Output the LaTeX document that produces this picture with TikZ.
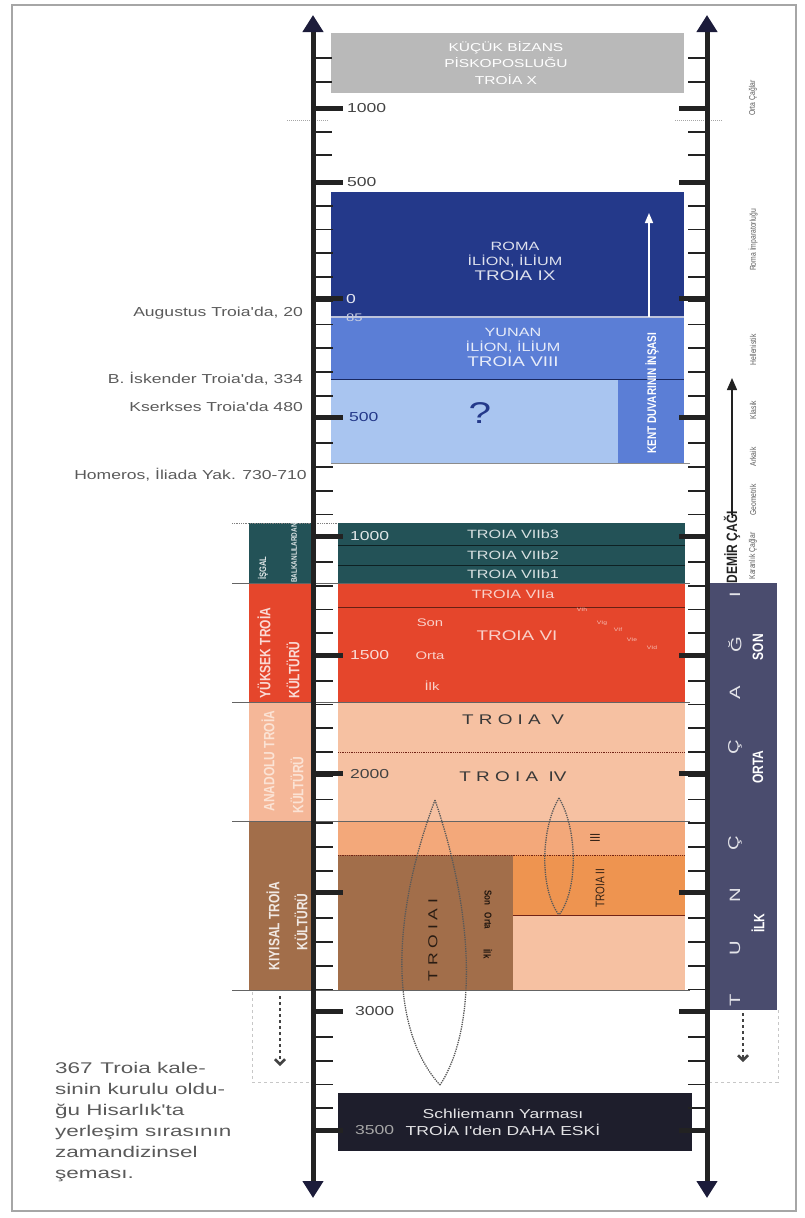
\documentclass[tikz,border=0pt]{standalone}
\usepackage{fontspec}
\setmainfont{Liberation Sans}
\newfontfamily\wsans[FakeStretch=1.35]{Liberation Sans}
\newfontfamily\nsans[FakeStretch=0.8]{Liberation Sans}
\newfontfamily\capsans[FakeStretch=1.45]{Liberation Sans}
\usetikzlibrary{arrows.meta}

\definecolor{bizgray}{HTML}{B9B9B9}
\definecolor{romablue}{HTML}{24398A}
\definecolor{yunanblue}{HTML}{5B7ED6}
\definecolor{skyblue}{HTML}{A9C5F0}
\definecolor{tealsev}{HTML}{235257}
\definecolor{redsix}{HTML}{E5462C}
\definecolor{peach}{HTML}{F6C1A2}
\definecolor{peachthree}{HTML}{F3A87A}
\definecolor{orangetwo}{HTML}{EE9450}
\definecolor{brownone}{HTML}{A26E4A}
\definecolor{slate}{HTML}{4A4C6E}
\definecolor{night}{HTML}{1E1E2C}
\definecolor{ink}{HTML}{222222}
\definecolor{tipnavy}{HTML}{1C1C3A}
\definecolor{note}{HTML}{5A5A5A}

\tikzset{
  axisline/.style={line width=5pt, ink,
    {Triangle[width=20pt,length=17pt,color=tipnavy]}-{Triangle[width=20pt,length=17pt,color=tipnavy]}},
  minortick/.style={line width=1.6pt, ink},
  majortick/.style={line width=5pt, ink},
  yearlbl/.style={anchor=west, inner sep=0, font=\wsans\fontsize{13}{13}\selectfont},
  boxtxt/.style={inner sep=0, align=center, font=\wsans\fontsize{12}{15}\selectfont},
  eventlbl/.style={anchor=east, inner sep=0, text=note, font=\wsans\fontsize{13}{13}\selectfont},
  culture/.style={rotate=90, inner sep=0, font=\nsans\bfseries\fontsize{15}{15}\selectfont},
  tuncltr/.style={rotate=90, inner sep=0, text=white!85!slate, font=\wsans\fontsize{15}{15}\selectfont},
  tuncsub/.style={rotate=90, inner sep=0, text=white, font=\nsans\bfseries\fontsize{15}{15}\selectfont},
  periodlbl/.style={rotate=90, inner sep=0, text=note, font=\nsans\fontsize{8.5}{8.5}\selectfont},
  lens/.style={densely dotted, line width=1.3pt, ink!75},
  bandline/.style={line width=0.8pt, ink!70},
  gapline/.style={dashed, line width=1pt, black!22},
  downarrow/.style={dashed, line width=2.5pt, ink!85, -{Straight Barb[length=5pt,width=10pt]}},
}

\begin{document}
\begin{tikzpicture}[x=1pt, y=-1pt]
  \useasboundingbox (0,0) rectangle (805,1218);
  % frame
  \draw[black!35, line width=2pt] (12,5) rectangle (796,1211);

  % upper blocks
  \fill[bizgray] (331,33) rectangle (684,93);
  \fill[romablue] (331,192) rectangle (684,317);
  \fill[yunanblue] (331,317) rectangle (684,379);
  \fill[skyblue] (331,379) rectangle (618,463);
  \fill[yunanblue] (618,379) rectangle (684,463);
  \draw[white!70!romablue, line width=1.2pt] (331,317) -- (684,317);
  \draw[romablue!70!black, line width=0.8pt] (331,379) -- (684,379);
  \draw[black!45, line width=0.8pt] (331,463) -- (690,463);

  % lower blocks
  \fill[tealsev] (338,523) rectangle (685,583);
  \fill[tealsev] (249,523) rectangle (311,583);
  \fill[redsix] (338,583) rectangle (685,702);
  \fill[redsix] (249,583) rectangle (311,702);
  \fill[peach] (338,702) rectangle (685,821);
  \fill[peach!92!redsix] (249,702) rectangle (311,821);
  \fill[peachthree] (338,821) rectangle (685,855);
  \fill[brownone] (338,855) rectangle (513,990);
  \fill[brownone] (249,821) rectangle (311,990);
  \fill[orangetwo] (513,855) rectangle (685,915);
  \fill[peach] (513,915) rectangle (685,990);
  \fill[night] (338,1093) rectangle (692,1151);
  \fill[slate] (708,583) rectangle (777,1010);

  \draw[black!60!tealsev, line width=1pt] (338,545) -- (685,545);
  \draw[black!60!tealsev, line width=1pt] (338,565) -- (685,565);
  \draw[black!55!redsix, line width=1pt] (338,607) -- (685,607);
  \draw[densely dotted, black!50!redsix, line width=0.8pt] (338,752) -- (685,752);
  \draw[densely dotted, black!50!redsix, line width=0.8pt] (338,855) -- (685,855);
  \draw[black!50!redsix, line width=0.8pt] (513,915) -- (685,915);
  \draw[densely dotted, black!50, line width=0.8pt] (232,523) -- (338,523);
  \foreach \y in {583,702,821,990}
    \draw[bandline] (232,\y) -- (690,\y);

  % lenses
  \draw[lens] (435,800) .. controls (390,920) and (390,1030) .. (440,1085);
  \draw[lens] (435,800) .. controls (476,920) and (476,1030) .. (440,1085);
  \draw[lens] (559,798) .. controls (540,830) and (540,890) .. (559,915);
  \draw[lens] (559,798) .. controls (578,830) and (578,890) .. (559,915);

  % gaps below
  \draw[gapline] (252,992) -- (252,1082) -- (313,1082);
  \draw[gapline] (778,1010) -- (778,1082) -- (707,1082);
  \draw[downarrow] (280,996) -- (280,1066);
  \draw[downarrow] (743,1013) -- (743,1062);
  \draw[densely dotted, black!35, line width=1pt] (287,120) -- (328,120);
  \draw[densely dotted, black!35, line width=1pt] (675,120) -- (722,120);

  % axes and ticks
  \draw[axisline] (313,15) -- (313,1198);
  \draw[axisline] (707,15) -- (707,1198);
  \foreach \y in {58,82,132,155}{
    \draw[minortick] (313,\y) -- (332,\y);
    \draw[minortick] (688,\y) -- (707,\y);
  }
  \foreach \k in {1,...,39}{
    \draw[minortick] (313,182+23.75*\k) -- (333,182+23.75*\k);
    \draw[minortick] (688,182+23.75*\k) -- (707,182+23.75*\k);
  }
  \foreach \y in {108,182,298.75,417.5,536.25,655,773.75,892.5,1011.25,1130}{
    \draw[majortick] (313,\y) -- (343,\y);
    \draw[majortick] (679,\y) -- (707,\y);
  }

  % year labels
  \node[yearlbl, text=ink!85] (y1000ad) at (347,108) {1000};
  \node[yearlbl, text=ink!85] (y500ad) at (347,182) {500};
  \node[yearlbl, text=white!88!romablue] (y0) at (346,298.75) {0};
  \node[yearlbl, text=white!75!romablue, font=\wsans\fontsize{11}{11}\selectfont] (y85) at (346,318) {85};
  \node[yearlbl, text=romablue] (y500bc) at (349,417.5) {500};
  \node[yearlbl, text=white!85!tealsev] (y1000bc) at (350,536.25) {1000};
  \node[yearlbl, text=white!80!redsix] (y1500) at (350,655) {1500};
  \node[yearlbl, text=ink!85] (y2000) at (350,773.75) {2000};
  \node[yearlbl, text=ink!85] (y3000) at (355,1011.25) {3000};
  \node[yearlbl, text=black!35] (y3500) at (355,1130) {3500};

  % block texts
  \node[boxtxt, text=white, font=\wsans\fontsize{11.5}{16.5}\selectfont] (bizans) at (506,63)
    {KÜÇÜK BİZANS\\PİSKOPOSLUĞU\\TROİA X};
  \node[boxtxt, text=white!85!romablue] (roma) at (515,261)
    {ROMA\\İLİON, İLİUM\\{\fontsize{14}{16}\selectfont TROIA IX}};
  \node[boxtxt, text=white!85!yunanblue] (yunan) at (513,347)
    {YUNAN\\İLİON, İLİUM\\{\fontsize{14}{16}\selectfont TROIA VIII}};
  \node[text=romablue, inner sep=0, font=\wsans\fontsize{30}{30}\selectfont] (soru) at (480,413) {?};
  \node[rotate=90, inner sep=0, text=white, font=\nsans\bfseries\fontsize{12.5}{12.5}\selectfont] (kent) at (652,393)
    {KENT DUVARININ İNŞASI};
  \coordinate (kentust) at (649,213);
  \draw[white, line width=1.6pt, -{Triangle[width=8pt,length=10pt]}] (649,317) -- (kentust);

  \node[boxtxt, text=white!82!tealsev] (vii3) at (513,534) {TROIA VIIb3};
  \node[boxtxt, text=white!82!tealsev] (vii2) at (513,555) {TROIA VIIb2};
  \node[boxtxt, text=white!82!tealsev] (vii1) at (513,574) {TROIA VIIb1};
  \node[boxtxt, text=white!75!redsix] (viia) at (513,594) {TROIA VIIa};
  \node[boxtxt, text=white!75!redsix, font=\wsans\fontsize{14}{14}\selectfont] (vi) at (517,636) {TROIA VI};
  \node[boxtxt, text=white!75!redsix, font=\wsans\fontsize{11}{11}\selectfont] (vison) at (430,623) {Son};
  \node[boxtxt, text=white!75!redsix, font=\wsans\fontsize{11}{11}\selectfont] (viorta) at (430,656) {Orta};
  \node[boxtxt, text=white!75!redsix, font=\wsans\fontsize{11}{11}\selectfont] (viilk) at (432,686) {İlk};
  \foreach \t/\x/\y in {VIh/582/610, VIg/602/623, VIf/618/630, VIe/632/640, VId/652/648}
    \node[inner sep=0, text=white!65!redsix, font=\wsans\fontsize{5}{5}\selectfont] (sub\t) at (\x,\y) {\t};

  \node[boxtxt, text=ink!90, font=\wsans\fontsize{14}{14}\selectfont] (troiav) at (513,720) {T~R~O~I~A~~V};
  \node[boxtxt, text=ink!90, font=\wsans\fontsize{14}{14}\selectfont] (troiaiv) at (513,777) {T~R~O~I~A~~IV};
  \node[rotate=90, inner sep=0, text=black!70!brownone, font=\nsans\fontsize{14}{14}\selectfont] (troiaiii) at (595,838) {III};
  \node[rotate=90, inner sep=0, text=black!70!brownone, font=\nsans\fontsize{12.5}{12.5}\selectfont] (troiaii) at (600,888) {TROIA II};
  \node[rotate=90, inner sep=0, text=black!75!brownone, font=\wsans\fontsize{13}{13}\selectfont] (troiai) at (433,940) {T~R~O~I~A~I};
  \node[rotate=-90, inner sep=0, text=black!80!brownone, font=\nsans\bfseries\fontsize{10}{10}\selectfont] (ison) at (488,898) {Son};
  \node[rotate=-90, inner sep=0, text=black!80!brownone, font=\nsans\bfseries\fontsize{10}{10}\selectfont] (iorta) at (488,921) {Orta};
  \node[rotate=-90, inner sep=0, text=black!80!brownone, font=\nsans\bfseries\fontsize{10}{10}\selectfont] (iilk) at (488,954) {İlk};

  \node[boxtxt, text=white!88!night, font=\wsans\fontsize{13}{17}\selectfont] (schliemann) at (503,1122)
    {Schliemann Yarması\\TROİA I'den DAHA ESKİ};

  % culture column
  \node[culture, text=white!85!tealsev, font=\nsans\bfseries\fontsize{9.5}{9.5}\selectfont] (isgal) at (263,568) {İŞGAL};
  \node[culture, text=white!85!tealsev, font=\nsans\bfseries\fontsize{8}{8}\selectfont] (balkan) at (294,553) {BALKANLILARDAN};
  \node[culture, text=white!80!redsix] (yuksek1) at (264,653) {YÜKSEK TROİA};
  \node[culture, text=white!80!redsix] (yuksek2) at (293,670) {KÜLTÜRÜ};
  \node[culture, text=white!55!peach] (anadolu1) at (268,761) {ANADOLU TROİA};
  \node[culture, text=white!55!peach] (anadolu2) at (297,785) {KÜLTÜRÜ};
  \node[culture, text=white!85!brownone] (kiyisal1) at (273,926) {KIYISAL TROİA};
  \node[culture, text=white!85!brownone] (kiyisal2) at (301,922) {KÜLTÜRÜ};

  % Tunc cagi column
  \foreach \ch/\y [count=\i] in {T/1000,U/948,N/895,Ç/843,Ç/747,A/693,Ğ/645,I/595}
    \node[tuncltr] (tunc\i) at (735,\y) {\ch};
  \node[tuncsub] (tson) at (758,647) {SON};
  \node[tuncsub] (torta) at (758,767) {ORTA};
  \node[tuncsub] (tilk) at (758,923) {İLK};
  \node[rotate=90, inner sep=0, text=ink, font=\nsans\bfseries\fontsize{15}{15}\selectfont] (demir) at (732,547) {DEMİR ÇAĞI};
  \coordinate (demirust) at (732,378);
  \draw[ink, line width=1.5pt, -{Triangle[width=10pt,length=12pt]}] ([yshift=-4pt]demir.east) -- (demirust);

  % eras
  \foreach \txt/\y [count=\i] in {Orta Çağlar/98, Roma İmparatorluğu/240, Hellenistik/350, Klasik/410,
                                  Arkaik/457, Geometrik/500, Karanlık Çağlar/556}
    \node[periodlbl] (era\i) at (753,\y) {\txt};

  % events
  \node[eventlbl] (augustus) at (303,313) {Augustus Troia'da, 20};
  \node[eventlbl] (iskender) at (303,379) {B. İskender Troia'da, 334};
  \node[eventlbl] (kserkses) at (303,407) {Kserkses Troia'da 480};
  \node[eventlbl] (homeros) at (307,475) {Homeros, İliada Yak. 730-710};

  % caption
  \node[anchor=north west, align=left, inner sep=0, text=note, font=\capsans\fontsize{15.5}{21}\selectfont] (caption) at (55,1062)
    {367\enspace Troia kale-\\sinin kurulu oldu-\\ğu Hisarlık'ta\\yerleşim sırasının\\zamandizinsel\\şeması.};
\end{tikzpicture}
\end{document}
